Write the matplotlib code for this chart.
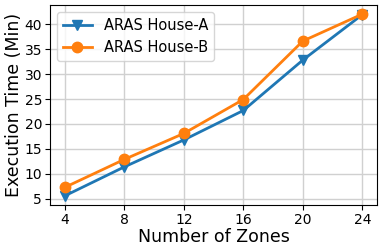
import matplotlib
matplotlib.use("Agg")
import matplotlib.pyplot as plt

zones = [4, 8, 12, 16, 20, 24]
house_a = [5.6, 11.4, 16.8, 22.7, 32.8, 41.9]
house_b = [7.3, 12.9, 18.1, 24.9, 36.6, 42.0]
labels = ["ARAS House-A", "ARAS House-B"]

fig, ax = plt.subplots(figsize=(3.83, 2.5), dpi=100)
ax.plot(zones, house_a, marker="v", color="#1f77b4", lw=2, ms=7.5, label=labels[0])
ax.plot(zones, house_b, marker="o", color="#ff7f0e", lw=2, ms=7.5, label=labels[1])
ax.set_xticks(zones)
ax.set_yticks([5, 10, 15, 20, 25, 30, 35, 40])
ax.tick_params(labelsize=10, pad=2)
ax.set_xlabel("Number of Zones", fontsize=12.5, labelpad=1)
ax.set_ylabel("Execution Time (Min)", fontsize=12.5, labelpad=1)
ax.grid(True, color="#d0d0d0", lw=1)
ax.legend(fontsize=10.5, loc="upper left")
fig.subplots_adjust(left=0.13, right=0.985, top=0.98, bottom=0.18)
fig.savefig("out.png", dpi=100)
